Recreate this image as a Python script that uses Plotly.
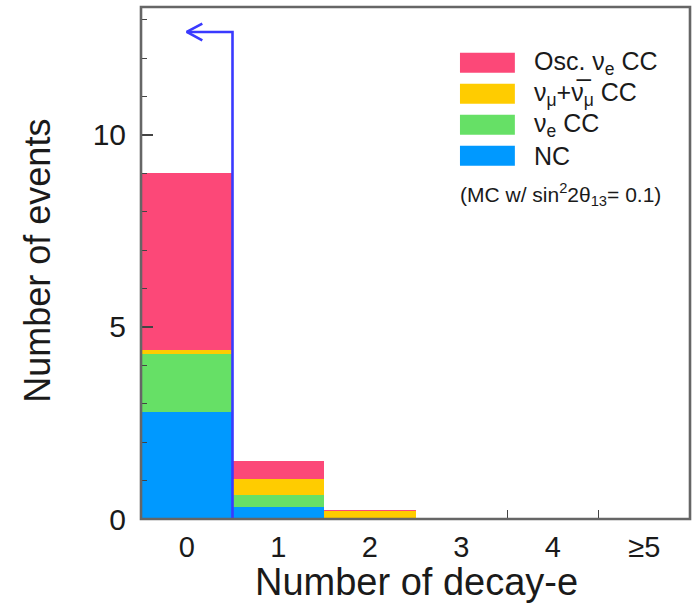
import plotly.graph_objects as go

# Decay-electron multiplicity bins (bin centres 0..5, last bin is overflow)
bins = [0, 1, 2, 3, 4, 5]
bin_labels = ["0", "1", "2", "3", "4", "\u22655"]

# Stacked MC expectations per bin (events)
nc_events = [2.79, 0.32, 0.02, 0.0, 0.0, 0.0]
nue_cc_events = [1.50, 0.30, 0.00, 0.0, 0.0, 0.0]
numu_cc_events = [0.11, 0.41, 0.19, 0.0, 0.0, 0.0]
osc_nue_cc_events = [4.62, 0.49, 0.01, 0.0, 0.0, 0.0]

# Selection cut: keep events with zero decay electrons
cut_edge = 0.5
cut_arrow_tip = 0.0
cut_arrow_height = 12.68

series = [
    ("NC", nc_events, "#0099ff"),
    ("\u03bd<sub>e</sub> CC", nue_cc_events, "#66e066"),
    ("\u03bd<sub>\u03bc</sub>+\u03bd\u0305<sub>\u03bc</sub> CC", numu_cc_events, "#ffcc00"),
    ("Osc. \u03bd<sub>e</sub> CC", osc_nue_cc_events, "#fc4878"),
]

FONT = "Liberation Sans, Arial, Helvetica, sans-serif"
INK = "#1a1a1a"
CUT_COLOR = "#3a3aff"

fig = go.Figure()

for name, vals, color in series:
    fig.add_trace(go.Bar(
        x=bins, y=vals, name=name, width=1.0,
        marker=dict(color=color, line=dict(width=0)),
        hoverinfo="skip", showlegend=False,
    ))

# Cut line with a left-pointing arrow
fig.add_trace(go.Scatter(
    x=[cut_edge, cut_edge, cut_arrow_tip],
    y=[0, cut_arrow_height, cut_arrow_height],
    mode="lines", line=dict(color=CUT_COLOR, width=2.6),
    hoverinfo="skip", showlegend=False,
))
head_dx, head_dy = 0.17, 0.22
fig.add_trace(go.Scatter(
    x=[cut_arrow_tip + head_dx, cut_arrow_tip, cut_arrow_tip + head_dx],
    y=[cut_arrow_height + head_dy, cut_arrow_height, cut_arrow_height - head_dy],
    mode="lines", line=dict(color=CUT_COLOR, width=2.6),
    hoverinfo="skip", showlegend=False,
))

# Plot frame
shapes = [dict(type="rect", xref="paper", yref="paper", x0=0, x1=1, y0=0, y1=1,
               line=dict(color="#666666", width=2.6), layer="above")]

annotations = []
# Hand-built legend (top entry is the top of the stack)
row_top = 0.891
row_step = 0.0605
for i, (name, vals, color) in enumerate(reversed(series)):
    yc = row_top - i * row_step
    shapes.append(dict(type="rect", xref="paper", yref="paper",
                       x0=0.581, x1=0.681, y0=yc - 0.0195, y1=yc + 0.0195,
                       fillcolor=color, line=dict(width=0), layer="above"))
    annotations.append(dict(xref="paper", yref="paper", x=0.712, y=yc,
                            text=name, showarrow=False, xanchor="left",
                            yanchor="middle",
                            font=dict(family=FONT, size=25, color=INK)))
annotations.append(dict(xref="paper", yref="paper", x=0.578, y=0.633,
                        text="(MC w/ sin<sup>2</sup>2\u03b8<sub>13</sub>= 0.1)",
                        showarrow=False, xanchor="left", yanchor="middle",
                        font=dict(family=FONT, size=21, color=INK)))

# Axis titles
annotations.append(dict(xref="paper", yref="paper", x=0.501, y=-0.168,
                        text="Number of decay-e", showarrow=False,
                        xanchor="center", yanchor="bottom",
                        font=dict(family=FONT, size=38, color=INK)))
annotations.append(dict(xref="paper", yref="paper", x=-0.188, y=0.504,
                        text="Number of events", showarrow=False, textangle=-90,
                        xanchor="center", yanchor="middle",
                        font=dict(family=FONT, size=36, color=INK)))

fig.update_layout(
    width=695, height=605,
    margin=dict(l=141, r=5, t=7, b=86),
    paper_bgcolor="white", plot_bgcolor="white",
    barmode="stack", bargap=0,
    showlegend=False,
    shapes=shapes, annotations=annotations,
    font=dict(family=FONT, color=INK),
    xaxis=dict(
        range=[-0.5, 5.5], showgrid=False, zeroline=False, showline=False,
        tickmode="array", tickvals=bins, ticktext=bin_labels, ticks="",
        tickfont=dict(family=FONT, size=29, color=INK),
        ticklabelstandoff=8,
        minor=dict(tickmode="array", tickvals=[b + 0.5 for b in bins[:-1]],
                   ticks="inside", ticklen=9, tickwidth=1.3, tickcolor="#444444"),
        layer="below traces",
    ),
    yaxis=dict(
        range=[0, 13.33], showgrid=False, zeroline=False, showline=False,
        tickmode="array", tickvals=[0, 5, 10], ticks="inside", ticklen=12,
        tickwidth=1.5, tickcolor="#444444",
        tickfont=dict(family=FONT, size=30, color=INK),
        ticklabelstandoff=14,
        minor=dict(dtick=1, ticks="inside", ticklen=6, tickwidth=1.3,
                   tickcolor="#444444"),
        layer="above traces",
    ),
)

fig.write_html("out.html")
